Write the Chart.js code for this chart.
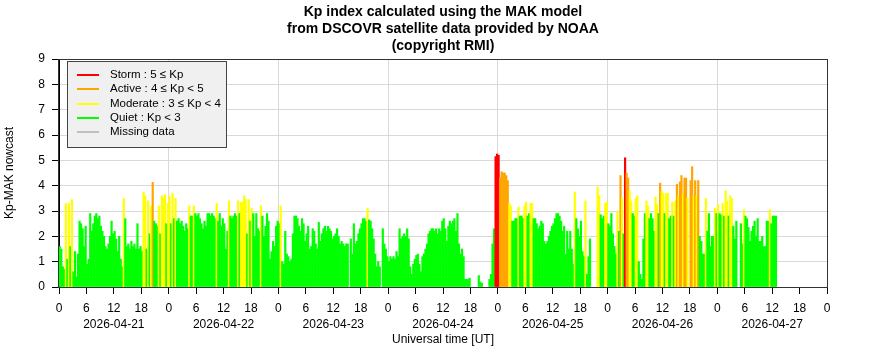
<!DOCTYPE html>
<html>
<head>
<meta charset="utf-8">
<script src="https://cdn.jsdelivr.net/npm/chart.js@4/dist/chart.umd.min.js"></script>
<style>
html,body{margin:0;padding:0;background:#ffffff;}
canvas{display:block;}
</style>
</head>
<body>
<canvas id="c" width="886" height="360"></canvas>
<script>
// ---------- DATA ----------
const titleLines = [
  'Kp index calculated using the MAK model',
  'from DSCOVR satellite data provided by NOAA',
  '(copyright RMI)'
];
const xAxisTitle = 'Universal time [UT]';
const yAxisTitle = 'Kp-MAK nowcast';
const dayLabels = ['2026-04-21','2026-04-22','2026-04-23','2026-04-24','2026-04-25','2026-04-26','2026-04-27'];
const legendLabels = ['Storm : 5 \u2264 Kp','Active : 4 \u2264 Kp < 5','Moderate : 3 \u2264 Kp < 4','Quiet : Kp < 3','Missing data'];

// Kp values, one per 20 minutes (3 per hour), null = missing data
const kp21 = [1.6,1.5,0.8, 0.7,3.3,1.1, 3.3,1.6,3.45, 0.6,1.4,0.4, 1.3,2.6,2.5, 2.3,1.6,2.4,
              0.9,1.1,2.9, 2.2,2.5,2.8, 2.9,2.7,2.8, 2.4,2.2,2.0, 1.6,1.5,1.7, 2.0,2.6,2.1,
              2.2,1.9,1.4, 2.0,1.1,0.8, 3.5,2.7,1.6, 1.7,1.5,1.8, 1.6,1.7,1.5, 2.5,1.5,1.6,
              1.4,3.75,3.6, 1.5,3.4,2.1, 3.2,4.13,2.6, 2.5,2.4,3.2, 2.1,3.6,3.5, 3.65,2.5,3.3];
const kp22 = [3.6,2.5,3.7, 2.7,3.5,2.6, 2.7,2.5,2.6, 2.4,2.2,2.5, 2.3,3.2,2.8, 2.8,3.2,2.9,
              2.8,2.9,2.7, 2.5,2.3,2.6, 2.4,2.9,2.9, 2.8,2.9,2.8, 2.7,3.3,2.6, 2.9,2.4,2.7,
              2.5,1.5,2.2, 3.4,2.8,2.7, 2.8,2.9,2.8, 3.4,2.9,3.35, 3.35,3.6,3.45, 2.1,3.45,2.6,
              3.1,2.9,2.0, 2.9,2.3,2.2, 3.2,2.8,2.0, 2.4,2.9,2.6, 1.1,1.4,1.8, 1.6,2.4,2.6];
const kp23 = [2.5,3.2,1.0, 0.9,2.2,1.3, 1.2,1.0,1.1, 2.1,2.8,2.8, 2.7,2.4,2.2, 2.7,2.5,1.8,
              2.1,2.4,1.5, 1.6,2.3,2.2, 1.7,1.5,2.55, 1.8,2.1,2.3, 2.4,2.2,2.4, 2.3,2.2,1.9,
              2.0,2.1,2.3, 2.0,1.7,1.8, 1.7,1.6,1.7, 1.7,null,1.9, 1.3,2.5,1.7, 1.8,2.1,2.3,
              2.5,2.7,2.7, 2.6,3.1,2.65, 2.6,2.3,1.9, 1.3,0.8,1.0, 0.8,null,2.3, 1.7,1.5,1.2];
const kp24 = [1.0,1.2,1.1, 1.2,1.1,1.4, 1.2,2.3,1.9, 2.0,2.1,2.0, 2.3,1.9,0.8, 0.5,0.9,1.1,
              1.25,1.3,0.9, 0.6,1.2,1.3, 1.5,1.7,2.1, 2.2,2.3,2.3, 2.2,2.3,2.1, 2.3,2.2,2.6,
              2.7,2.3,1.8, 2.4,2.6,2.5, 2.6,2.7,2.2, 2.9,1.7,1.3, 1.5,1.2,0.3, 0.3,0.3,0.35,
              null,null,null, null,null,0.45, 0.2,0.15,null, null,null,null, 0.3,0.5,1.7, 2.3,5.15,5.25];
const kp25 = [5.2,4.3,4.55, 4.5,4.5,4.4, 4.2,3.3,3.2, 2.6,2.6,2.7, 2.7,3.15,2.8, 2.8,2.7,3.2,
              3.35,2.8,2.9, 3.3,3.3,2.7, 2.7,2.5,2.3, 2.4,2.6,2.5, 1.8,1.7,1.8, 2.0,2.2,2.4,
              2.5,2.7,2.9, 2.9,2.8,2.6, 2.2,2.4,1.3, 2.2,1.5,2.2, 1.5,0.9,3.75, 2.7,2.3,2.0,
              2.6,1.4,1.2, 3.4,0.5,1.2, 1.9,null,null, null,null,3.95, 3.6,2.85,2.7, 2.8,3.3,3.35];
const kp26 = [2.5,2.4,2.9, 2.1,1.6,1.3, 3.0,2.2,4.4, 3.5,2.1,5.1, 4.5,4.3,3.8, 3.4,2.9,2.8,
              3.5,3.6,1.0, 0.5,0.3,1.9, 2.9,3.4,3.2, 2.7,2.9,2.7, 2.2,3.55,3.25, 2.9,4.1,3.8,
              3.7,2.9,3.7, 3.7,2.7,2.8, 3.35,2.8,3.4, 4.05,3.6,4.15, 4.4,3.7,4.3, 4.3,3.5,null,
              4.2,4.75,3.6, 4.2,3.6,4.2, 2.0,1.8,1.3, 1.3,3.5,2.2, 2.9,1.6,2.0, 2.0,3.1,2.9];
const kp27 = [3.25,2.9,2.85, 3.3,2.8,3.8, 3.4,2.8,3.6, 3.5,2.4,1.9, 2.6,null,null, 2.5,1.7,3.05,
              2.8,2.7,2.35, 1.8,2.2,2.4, 2.6,2.0,2.7, 1.8,1.8,2.0, 1.6,1.6,2.6, 2.6,3.05,2.5,
              2.8,2.8,2.8];

// ---------- STYLE ----------
const COLORS = { storm:'#ff0000', active:'#ffa500', moderate:'#ffff00', quiet:'#00ff00', missing:'#c0c0c0' };
const legendColors = [COLORS.storm, COLORS.active, COLORS.moderate, COLORS.quiet, COLORS.missing];
function kpColor(v){
  if (v === null || v === undefined) return 'rgba(0,0,0,0)';
  if (v >= 5) return COLORS.storm;
  if (v >= 4) return COLORS.active;
  if (v >= 3) return COLORS.moderate;
  return COLORS.quiet;
}

const series = [].concat(kp21, kp22, kp23, kp24, kp25, kp26, kp27);
const points = series.map((v, i) => ({ x: i / 3 + 1 / 6, y: v }));

Chart.defaults.font.family = "'Liberation Sans', Arial, Helvetica, sans-serif";
Chart.defaults.font.size = 12;
Chart.defaults.color = '#000000';

const framePlugin = {
  id: 'frameAndLegend',
  afterDraw(chart) {
    const ctx = chart.ctx;
    const a = chart.chartArea;
    ctx.save();
    // plot frame
    ctx.strokeStyle = '#333333';
    ctx.lineWidth = 1;
    ctx.strokeRect(Math.round(a.left) - 0.5, Math.round(a.top) + 0.5, Math.round(a.right - a.left) + 1, Math.round(a.bottom - a.top));
    // legend box
    const x0 = Math.round(a.left) + 8, y0 = Math.round(a.top) + 2, w = 159, h = 86;
    ctx.fillStyle = '#f0f0f0';
    ctx.fillRect(x0, y0, w, h);
    ctx.strokeStyle = '#444444';
    ctx.strokeRect(x0 + 0.5, y0 + 0.5, w, h);
    ctx.font = "11.5px 'Liberation Sans', Arial, sans-serif";
    ctx.textBaseline = 'middle';
    ctx.textAlign = 'left';
    legendLabels.forEach((lab, i) => {
      const yy = y0 + 14 + i * 14.25;
      ctx.strokeStyle = legendColors[i];
      ctx.lineWidth = 2;
      ctx.beginPath();
      ctx.moveTo(x0 + 10, Math.round(yy));
      ctx.lineTo(x0 + 32, Math.round(yy));
      ctx.stroke();
      ctx.fillStyle = '#000000';
      ctx.fillText(lab, x0 + 43, yy);
    });
    ctx.restore();
  }
};

new Chart(document.getElementById('c'), {
  type: 'bar',
  data: {
    datasets: [{
      data: points,
      backgroundColor: (c) => kpColor(c.raw ? c.raw.y : null),
      borderWidth: 0,
      barPercentage: 1,
      categoryPercentage: 1,
      grouped: false
    }]
  },
  options: {
    responsive: false,
    animation: false,
    devicePixelRatio: 1,
    layout: { padding: { left: 0, right: 59, top: 0, bottom: 0 } },
    plugins: {
      legend: { display: false },
      tooltip: { enabled: false },
      title: {
        display: true,
        fullSize: false,
        text: titleLines,
        color: '#000000',
        font: { size: 14, weight: 'bold', lineHeight: 17 / 14 },
        padding: { top: 4, bottom: 4 }
      }
    },
    scales: {
      x: {
        type: 'linear',
        min: 0, max: 168,
        offset: false,
        afterFit: (s) => { s.height = 73; },
        grid: {
          offset: false,
          color: (c) => (c.tick && Math.round(c.tick.value) % 24 === 0) ? '#d9d9d9' : 'rgba(0,0,0,0)',
          tickColor: '#000000',
          tickLength: 7
        },
        border: { color: '#000000', width: 1 },
        ticks: {
          stepSize: 6,
          autoSkip: false,
          maxRotation: 0,
          padding: 7,
          font: { size: 12, lineHeight: 1.3 },
          callback: (v) => {
            const hv = Math.round(v);
            const hr = hv % 24;
            const day = Math.floor(hv / 24);
            if (hr === 12 && day < dayLabels.length) return ['12', dayLabels[day]];
            return String(hr);
          }
        },
        title: { display: true, text: xAxisTitle, font: { size: 12 }, padding: { top: 0, bottom: 13 } }
      },
      y: {
        min: 0, max: 9,
        afterFit: (s) => { s.width = 59; },
        grid: { color: '#d9d9d9', tickColor: '#000000', tickLength: 7 },
        border: { color: '#000000', width: 1 },
        ticks: { stepSize: 1, padding: 7, font: { size: 12 } },
        title: { display: true, text: yAxisTitle, font: { size: 12 }, padding: { top: 2, bottom: 0 } }
      }
    }
  },
  plugins: [framePlugin]
});
</script>
</body>
</html>
